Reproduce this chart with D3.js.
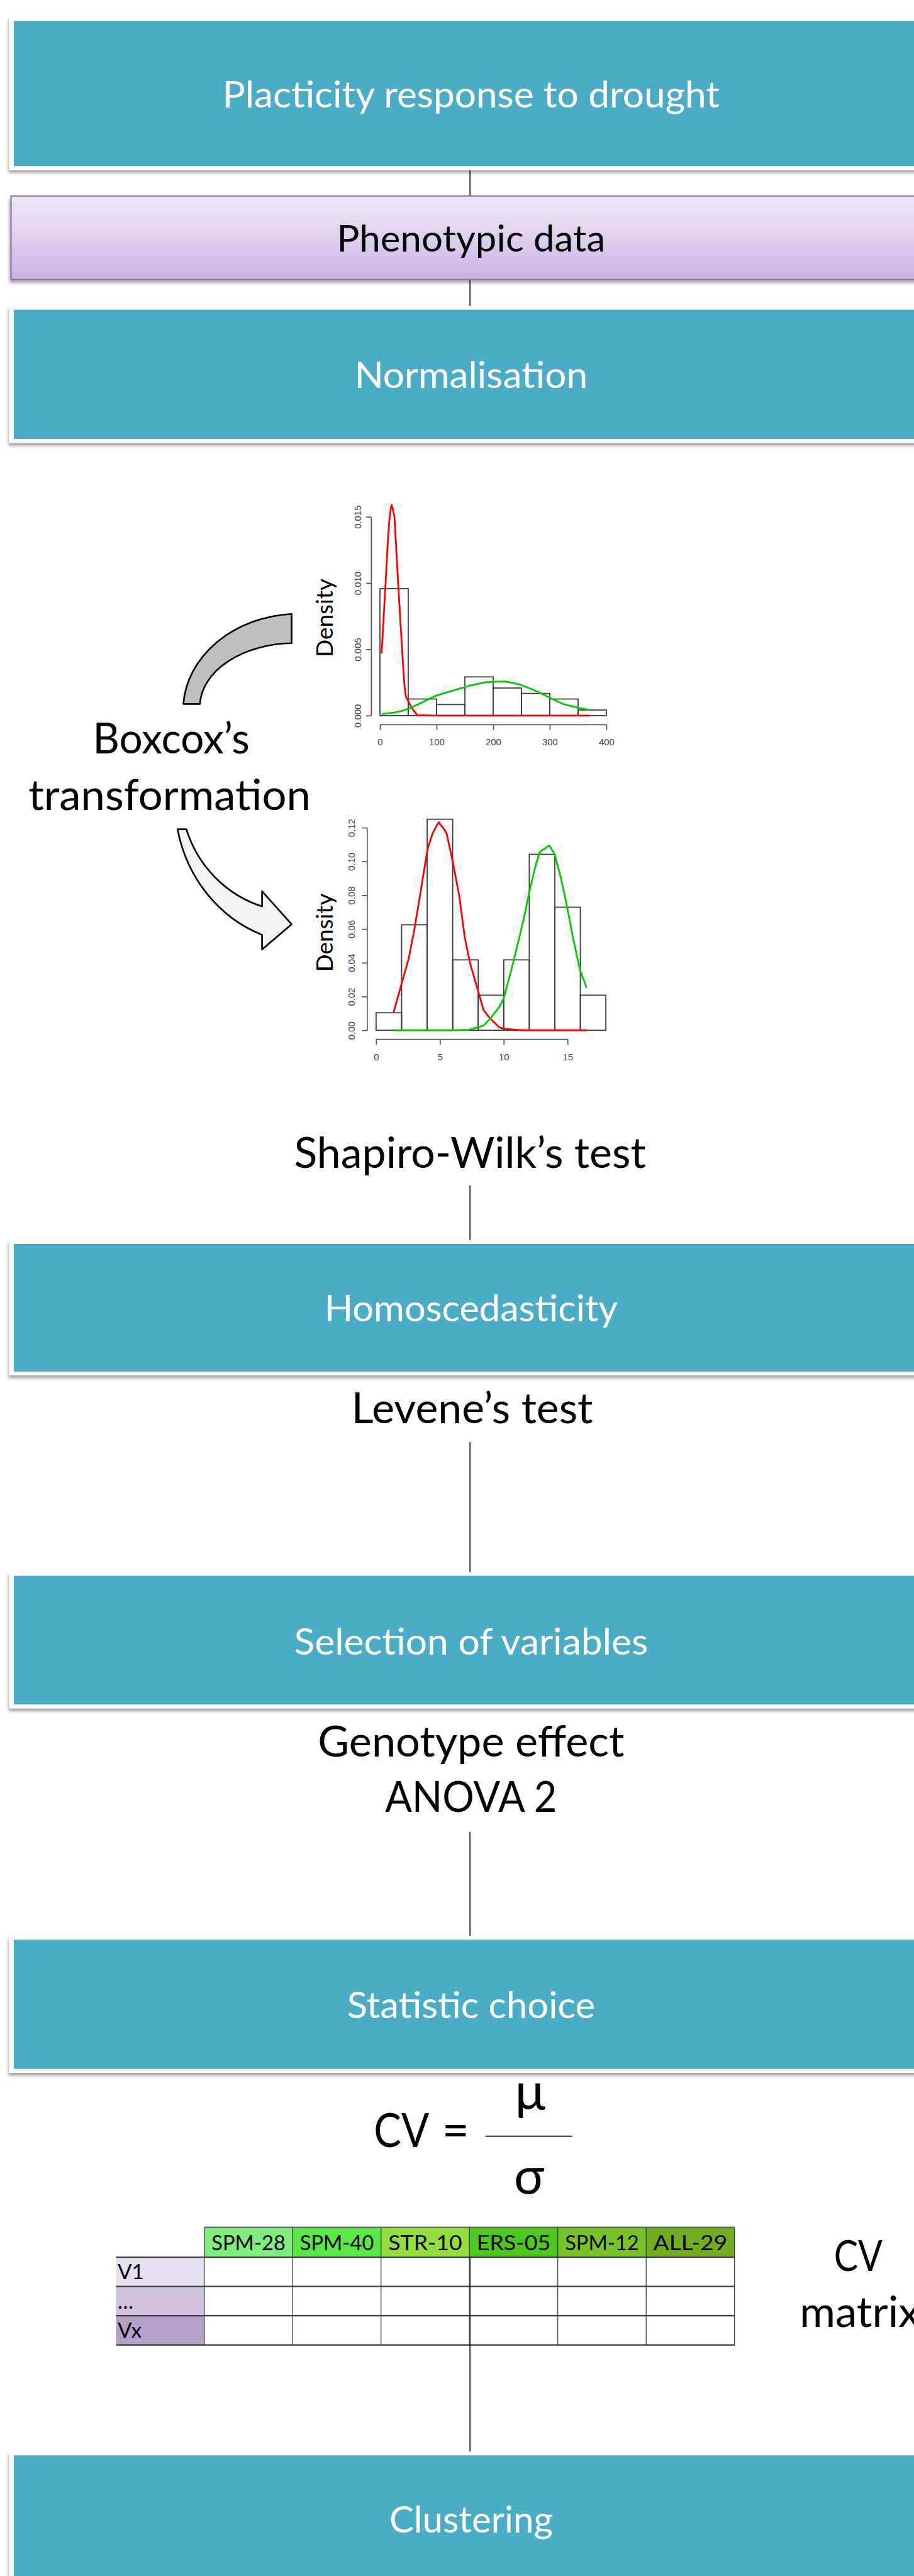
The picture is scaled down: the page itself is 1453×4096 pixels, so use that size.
<!DOCTYPE html>
<html><head><meta charset="utf-8">
<script src="https://cdn.jsdelivr.net/npm/d3@7"></script>
<style>html,body{margin:0;padding:0;background:#fff;} svg{display:block;}</style>
</head><body>
<script>
// ===================== DATA =====================
const stepLabels = ["Placticity response to drought", "Phenotypic data", "Normalisation",
  "Homoscedasticity", "Selection of variables", "Statistic choice", "Clustering"];
const noteLabels = ["Boxcox’s", "transformation", "Shapiro-Wilk’s test", "Levene’s test",
  "Genotype effect", "ANOVA 2"];

// Histogram 1 (raw data)
const hist1Edges = [0, 50, 100, 150, 200, 250, 300, 350, 400];
const hist1Density = [0.00958, 0.00125, 0.00083, 0.00292, 0.00208, 0.00167, 0.00125, 0.00042];
const hist1XTicks = [0, 100, 200, 300, 400];
const hist1YTicks = [0, 0.005, 0.010, 0.015];
const hist1Red = [[3,0.0047],[7,0.0078],[11,0.0108],[14,0.0132],[16.5,0.0147],[19,0.0156],[20.5,0.0159],
  [22,0.0157],[24,0.0153],[25.6,0.0150],[28,0.0132],[32,0.0101],[36,0.0072],[39.4,0.0048],[42,0.0030],
  [44,0.0020],[46,0.0014],[56,0.0006],[65.6,0.00003],[100,0],[200,0],[300,0],[370,0]];
const hist1Green = [[3,0.00012],[25,0.00022],[43,0.0004],[60,0.0007],[80,0.0011],[99,0.0015],[130,0.0019],
  [159,0.00226],[185,0.0025],[205,0.00256],[222,0.00257],[248,0.00233],[270,0.00196],[286,0.00164],
  [305,0.00125],[323,0.00088],[349,0.0006],[370,0.00042]];

// Histogram 2 (after Box-Cox)
const hist2Edges = [0, 2, 4, 6, 8, 10, 12, 14, 16, 18];
const hist2Density = [0.0104, 0.0625, 0.125, 0.0417, 0.0208, 0.0417, 0.1042, 0.0729, 0.0208];
const hist2XTicks = [0, 5, 10, 15];
const hist2YTicks = [0, 0.02, 0.04, 0.06, 0.08, 0.10, 0.12];
const hist2Red = [[1.36,0.0104],[2.0,0.0276],[2.55,0.0423],[3.05,0.0619],[3.4,0.078],[3.71,0.0924],
  [4.04,0.1077],[4.45,0.117],[4.9,0.1232],[5.36,0.1188],[5.53,0.1164],[6.03,0.099],[6.52,0.0794],
  [6.94,0.0554],[7.35,0.0401],[7.93,0.0249],[8.43,0.0118],[9.0,0.0065],[9.67,0.0017],[10.0,0.0009],
  [11.5,0],[16.5,0]];
const hist2Green = [[1.36,0],[6.03,0],[7.27,0.0003],[8.43,0.0028],[9.0,0.0075],[9.67,0.014],[10.0,0.0189],
  [10.67,0.0379],[11.58,0.0663],[11.99,0.0815],[12.49,0.0973],[12.82,0.1055],[13.57,0.1095],
  [13.98,0.1044],[14.48,0.0903],[14.97,0.0728],[15.47,0.0532],[15.97,0.0358],[16.5,0.0251]];

// CV matrix
const genotypes = ["SPM-28", "SPM-40", "STR-10", "ERS-05", "SPM-12", "ALL-29"];
const variables = ["V1", "…", "Vx"];

// ===================== STYLE / LAYOUT =====================
const K = 1453 / 1655;             // reference -> window
const TEAL = "#4BACC6";
const FONT = "Lato, 'Open Sans', 'Noto Sans', sans-serif";
const AXFONT = "'Liberation Sans', Arial, sans-serif";
const genotypeFills = ["#7EEC7E", "#57E847", "#93DE3D", "#4CC81D", "#77C428", "#71AE1F"];
const variableFills = ["#E6E0EE", "#CFC2DC", "#B2A2C8"];
const CX = 851;

const svg = d3.select("body").append("svg").attr("width", 1453).attr("height", 4096);
const defs = svg.append("defs");
const sh = defs.append("filter").attr("id", "shadow").attr("x", "-5%").attr("y", "-20%")
  .attr("width", "110%").attr("height", "145%");
sh.append("feDropShadow").attr("dx", -1.5).attr("dy", 5).attr("stdDeviation", 3)
  .attr("flood-color", "#000").attr("flood-opacity", 0.38);
const grad = defs.append("linearGradient").attr("id", "purp").attr("x1", 0).attr("y1", 0).attr("x2", 0).attr("y2", 1);
grad.append("stop").attr("offset", "0%").attr("stop-color", "#EFE9F7");
grad.append("stop").attr("offset", "55%").attr("stop-color", "#DCCDED");
grad.append("stop").attr("offset", "100%").attr("stop-color", "#C6B3E5");

const g = svg.append("g").attr("transform", `scale(${K})`);

// ---------- connector lines (behind boxes) ----------
const connectors = [[307, 355], [506, 556], [2147, 2246], [2612, 2848], [3318, 3508]];
g.selectAll("line.conn").data(connectors).join("line").attr("class", "conn")
  .attr("x1", CX).attr("x2", CX).attr("y1", d => d[0]).attr("y2", d => d[1])
  .attr("stroke", "#222").attr("stroke-width", 2);

// ---------- boxes ----------
const tealBoxes = [
  {i: 0, y0: 38, y1: 301, base: 195, w: 900},
  {i: 2, y0: 561, y1: 795, base: 703, w: 422},
  {i: 3, y0: 2253, y1: 2484, base: 2393, w: 531},
  {i: 4, y0: 2854, y1: 3087, base: 2997, w: 641},
  {i: 5, y0: 3513, y1: 3747, base: 3655, w: 449},
  {i: 6, y0: 4447, y1: 4760, base: 4587, w: 296}
];
tealBoxes.forEach(b => {
  g.append("rect").attr("x", 17).attr("y", b.y0 - 7).attr("width", 1750).attr("height", b.y1 - b.y0 + 14)
    .attr("fill", "#fff").attr("filter", "url(#shadow)");
  g.append("rect").attr("x", 25).attr("y", b.y0).attr("width", 1750).attr("height", b.y1 - b.y0)
    .attr("fill", TEAL);
  g.append("text").attr("x", 853).attr("y", b.base).attr("text-anchor", "middle")
    .attr("font-family", FONT).attr("font-weight", 400).attr("font-size", 66).attr("fill", "#fff")
    .attr("textLength", b.w).attr("lengthAdjust", "spacingAndGlyphs").text(stepLabels[b.i]);
});
// purple data box
g.append("rect").attr("x", 20).attr("y", 355).attr("width", 1750).attr("height", 151)
  .attr("fill", "url(#purp)").attr("stroke", "#8F74B8").attr("stroke-width", 2.5).attr("filter", "url(#shadow)");
g.append("text").attr("x", 853).attr("y", 456).attr("text-anchor", "middle")
  .attr("font-family", FONT).attr("font-size", 66).attr("fill", "#000")
  .attr("textLength", 486).attr("lengthAdjust", "spacingAndGlyphs").text(stepLabels[1]);

// ---------- annotations ----------
const notes = [
  {i: 0, x: 310, y: 1365, w: 284}, {i: 1, x: 307, y: 1467, w: 511},
  {i: 2, x: 851, y: 2115, w: 637}, {i: 3, x: 855, y: 2578, w: 437},
  {i: 4, x: 853, y: 3181, w: 555}, {i: 5, x: 853, y: 3282, w: 311}
];
g.selectAll("text.note").data(notes).join("text").attr("class", "note")
  .attr("x", d => d.x).attr("y", d => d.y).attr("text-anchor", "middle")
  .attr("font-family", FONT).attr("font-size", 77).attr("fill", "#000")
  .attr("textLength", d => d.w).attr("lengthAdjust", "spacingAndGlyphs")
  .text(d => noteLabels[d.i]);

// ---------- Box-Cox arrows ----------
g.append("path")
  .attr("d", "M528,1112 A210,175 0 0 0 332,1275 L362,1275 A170,115 0 0 1 528,1165 Z")
  .attr("fill", "#BFBFBF").attr("stroke", "#000").attr("stroke-width", 3).attr("stroke-linejoin", "round");
g.append("path")
  .attr("d", "M321.5,1502 A240,260 0 0 0 474.5,1693 L474.5,1719.5 L528,1674 L474.5,1614 L474.5,1641.6 A210,215 0 0 1 337.5,1502 Z")
  .attr("fill", "#F2F2F2").attr("stroke", "#000").attr("stroke-width", 3).attr("stroke-linejoin", "round");

// ---------- histograms ----------
function histogram(cfg) {
  const x = d3.scaleLinear().domain(cfg.xDomain).range(cfg.xRange);
  const y = d3.scaleLinear().domain(cfg.yDomain).range(cfg.yRange);
  const hg = g.append("g");
  const bins = cfg.density.map((d, k) => ({x0: cfg.edges[k], x1: cfg.edges[k + 1], d}));
  hg.selectAll("rect").data(bins).join("rect")
    .attr("x", b => x(b.x0)).attr("width", b => x(b.x1) - x(b.x0))
    .attr("y", b => y(b.d)).attr("height", b => y(0) - y(b.d))
    .attr("fill", "none").attr("stroke", "#3a3a3a").attr("stroke-width", 2);
  const line = d3.line().x(p => x(p[0])).y(p => y(p[1]));
  hg.append("path").attr("d", line(cfg.red)).attr("fill", "none").attr("stroke", "#FF0000")
    .attr("stroke-width", 3.2).attr("stroke-linejoin", "round");
  hg.append("path").attr("d", line(cfg.green)).attr("fill", "none").attr("stroke", "#00CC00")
    .attr("stroke-width", 3.2).attr("stroke-linejoin", "round");
  // y axis
  const ya = hg.append("g").attr("transform", `translate(${cfg.yAxisX},0)`)
    .call(d3.axisLeft(y).tickValues(cfg.yTicks).tickFormat(d3.format(cfg.yFmt)).tickSize(9).tickSizeOuter(0));
  ya.select(".domain").attr("stroke", "#555").attr("stroke-width", 2);
  ya.selectAll(".tick line").attr("stroke", "#555").attr("stroke-width", 2);
  ya.selectAll(".tick text").attr("transform", "rotate(-90)").attr("x", 0).attr("y", cfg.yLabOff)
    .attr("dy", 0).attr("text-anchor", "middle").attr("font-family", AXFONT).attr("font-size", 17).attr("fill", "#444");
  // x axis
  const xa = hg.append("g").attr("transform", `translate(0,${cfg.xAxisY})`)
    .call(d3.axisBottom(x).tickValues(cfg.xTicks).tickSize(10).tickSizeOuter(0));
  xa.select(".domain").attr("stroke", "#555").attr("stroke-width", 2);
  xa.selectAll(".tick line").attr("stroke", "#555").attr("stroke-width", 2);
  xa.selectAll(".tick text").attr("y", 38).attr("dy", 0).attr("font-family", AXFONT)
    .attr("font-size", 17).attr("fill", "#444");
  xa.attr("font-family", null);
  ya.attr("font-family", null);
  // Density label
  hg.append("text").attr("transform", `translate(603,${cfg.labY}) rotate(-90)`).attr("text-anchor", "middle")
    .attr("font-family", FONT).attr("font-size", 42).attr("fill", "#000")
    .attr("textLength", 142).attr("lengthAdjust", "spacingAndGlyphs").text("Density");
}
histogram({xDomain: [0, 400], xRange: [688, 1098], yDomain: [0, 0.015], yRange: [1296, 936],
  edges: hist1Edges, density: hist1Density, red: hist1Red, green: hist1Green,
  xTicks: hist1XTicks, yTicks: hist1YTicks, yFmt: ".3f", yAxisX: 672, xAxisY: 1312, yLabOff: -18, labY: 1119});
histogram({xDomain: [0, 15], xRange: [681, 1027.7], yDomain: [0, 0.12], yRange: [1866, 1499],
  edges: hist2Edges, density: hist2Density, red: hist2Red, green: hist2Green,
  xTicks: hist2XTicks, yTicks: hist2YTicks, yFmt: ".2f", yAxisX: 664.5, xAxisY: 1882, yLabOff: -22, labY: 1689});

// ---------- CV formula ----------
g.append("text").attr("x", 677).attr("y", 3889).attr("font-family", FONT).attr("font-size", 85)
  .attr("textLength", 100).attr("lengthAdjust", "spacingAndGlyphs").text("CV");
g.append("text").attr("x", 825).attr("y", 3889).attr("text-anchor", "middle").attr("font-family", FONT)
  .attr("font-size", 85).text("=");
g.append("line").attr("x1", 879).attr("x2", 1036).attr("y1", 3869).attr("y2", 3869)
  .attr("stroke", "#333").attr("stroke-width", 2.5);
g.append("text").attr("x", 960).attr("y", 3820).attr("text-anchor", "middle").attr("font-family", FONT)
  .attr("font-size", 92).text("μ");
g.append("text").attr("x", 958).attr("y", 3973).attr("text-anchor", "middle").attr("font-family", FONT)
  .attr("font-size", 92).text("σ");

// ---------- CV matrix table ----------
const colX = d3.scaleBand().domain(genotypes).range([370, 1330]);
const rowY = d3.scaleBand().domain(variables).range([4088, 4247]);
const tg = g.append("g");
tg.selectAll("rect.hd").data(genotypes).join("rect").attr("class", "hd")
  .attr("x", d => colX(d)).attr("y", 4034).attr("width", colX.bandwidth()).attr("height", 54)
  .attr("fill", (d, k) => genotypeFills[k]);
tg.selectAll("rect.rl").data(variables).join("rect").attr("class", "rl")
  .attr("x", 210).attr("y", d => rowY(d)).attr("width", 160).attr("height", rowY.bandwidth())
  .attr("fill", (d, k) => variableFills[k]);
// header top border
tg.append("line").attr("x1", 370).attr("x2", 1330).attr("y1", 4034).attr("y2", 4034)
  .attr("stroke", "#666").attr("stroke-width", 2.5);
// horizontal borders
tg.selectAll("line.h").data([4088, 4141, 4194, 4247]).join("line").attr("class", "h")
  .attr("x1", 210).attr("x2", 1330).attr("y1", d => d).attr("y2", d => d)
  .attr("stroke", "#3c3c3c").attr("stroke-width", 2.5);
// vertical borders
const vx = genotypes.map(d => colX(d)).concat([1330]);
tg.selectAll("line.v").data(vx).join("line").attr("class", "v")
  .attr("x1", d => d).attr("x2", d => d).attr("y1", 4034).attr("y2", 4247)
  .attr("stroke", "#2a2a2a").attr("stroke-width", 1.3);
tg.selectAll("text.hd").data(genotypes).join("text").attr("class", "hd")
  .attr("x", d => colX(d) + colX.bandwidth() / 2).attr("y", 4075).attr("text-anchor", "middle")
  .attr("font-family", FONT).attr("font-size", 38).attr("fill", "#000")
  .attr("textLength", 134).attr("lengthAdjust", "spacingAndGlyphs").text(d => d);
tg.selectAll("text.rl").data(variables).join("text").attr("class", "rl")
  .attr("x", 213).attr("y", d => rowY(d) + 40).attr("font-family", FONT).attr("font-size", 38)
  .attr("fill", "#000").text(d => d);
// connector through table to Clustering
g.append("line").attr("x1", CX).attr("x2", CX).attr("y1", 4088).attr("y2", 4440)
  .attr("stroke", "#222").attr("stroke-width", 2);

g.append("text").attr("x", 1554).attr("y", 4113).attr("text-anchor", "middle").attr("font-family", FONT)
  .attr("font-size", 78).attr("textLength", 88).attr("lengthAdjust", "spacingAndGlyphs").text("CV");
g.append("text").attr("x", 1448).attr("y", 4214).attr("font-family", FONT)
  .attr("font-size", 78).attr("textLength", 218).attr("lengthAdjust", "spacingAndGlyphs").text("matrix");
</script>
</body></html>
